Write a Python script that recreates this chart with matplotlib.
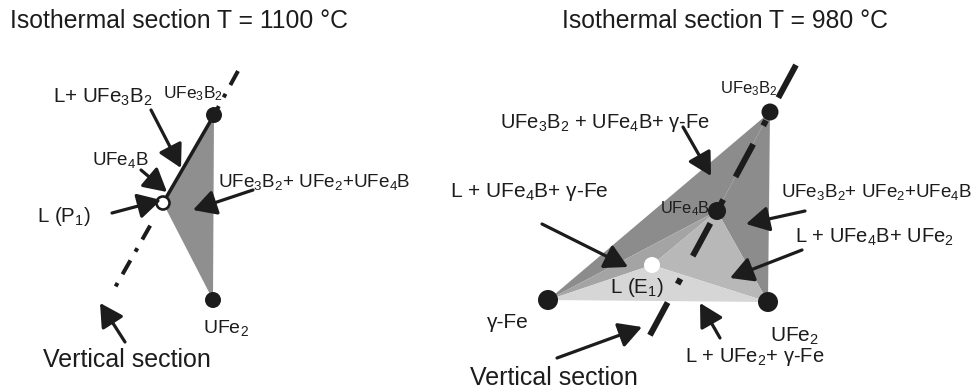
import matplotlib
matplotlib.use("Agg")
import matplotlib.pyplot as plt
from matplotlib.patches import Polygon, Circle

plt.rcParams["font.family"] = ["Liberation Sans", "DejaVu Sans"]
plt.rcParams["mathtext.fontset"] = "custom"
plt.rcParams["mathtext.rm"] = "Liberation Sans"
plt.rcParams["mathtext.it"] = "Liberation Sans:italic"
plt.rcParams["mathtext.bf"] = "Liberation Sans:bold"

# ---- phase points on the drawing plane (x, y), y grows downward ----
left_nodes = {"UFe3B2": (214, 115), "UFe2": (213, 300), "P1": (163, 203)}
right_nodes = {"UFe3B2": (770, 112), "UFe4B": (717, 211), "gFe": (548, 300),
               "UFe2": (768, 302), "E1": (652, 265)}

# phase-field triangles and their grey shade
left_fields = [(("UFe3B2", "P1", "UFe2"), "#8f8f8f")]
right_fields = [
    (("UFe3B2", "gFe", "UFe4B"), "#8c8c8c"),
    (("UFe3B2", "UFe4B", "UFe2"), "#8c8c8c"),
    (("gFe", "UFe4B", "E1"), "#a4a4a4"),
    (("UFe4B", "UFe2", "E1"), "#b8b8b8"),
    (("gFe", "E1", "UFe2"), "#d6d6d6"),
]

# vertical-section traces
left_section_top = [(238, 71), (214, 115)]
left_section_low = [(150.2, 225.6), (112.6, 291.7)]
right_section = [(796, 65), (649, 337)]

titles = [("Isothermal section T = 1100 °C", 10, 28),
          ("Isothermal section T = 980 °C", 562, 28)]

# labels: text, x, baseline y, size
labels = [
    ("L+ UFe$_3$B$_2$", 53, 103, 14.8),
    ("UFe$_3$B$_2$", 163, 98, 12.5),
    ("UFe$_4$B", 92, 165, 13.5),
    ("L (P$_1$)", 37, 222, 14.8),
    ("UFe$_3$B$_2$+ UFe$_2$+UFe$_4$B", 218, 187, 13.6),
    ("UFe$_2$", 203, 333, 14),
    ("Vertical section", 43, 367, 18),
    ("UFe$_3$B$_2$", 720, 93, 12),
    ("UFe$_3$B$_2$ + UFe$_4$B+ γ-Fe", 500, 128, 14.5),
    ("L + UFe$_4$B+ γ-Fe", 450, 197, 15),
    ("UFe$_3$B$_2$+ UFe$_2$+UFe$_4$B", 781, 197, 13.5),
    ("UFe$_4$B", 660, 213, 11.8),
    ("L + UFe$_4$B+ UFe$_2$", 795, 243, 14.5),
    ("L (E$_1$)", 610, 293, 14.8),
    ("γ-Fe", 487, 328, 15),
    ("UFe$_2$", 770, 342, 15),
    ("L + UFe$_2$+ γ-Fe", 685, 362, 14.5),
    ("Vertical section", 470, 385, 18),
]

# pointer arrows: tail -> tip
arrows = [
    ((151, 110), (181, 168)),
    ((141, 170), (167, 192)),
    ((112, 213), (161, 200)),
    ((253, 190), (193, 210)),
    ((125, 342), (100, 303)),
    ((683, 127), (711, 176)),
    ((542, 224), (628, 267)),
    ((805, 211), (746, 224)),
    ((802, 250), (730, 278)),
    ((720, 338), (700, 303)),
    ((557, 358), (642, 327)),
]

INK = "#1c1c1c"
PX = 72 / 100  # points per pixel

fig = plt.figure(figsize=(9.74, 3.89), dpi=100)
ax = fig.add_axes([0, 0, 1, 1])
ax.set_xlim(0, 974)
ax.set_ylim(389, 0)
ax.axis("off")

for nodes, fields in ((left_nodes, left_fields), (right_nodes, right_fields)):
    for keys, shade in fields:
        ax.add_patch(Polygon([nodes[k] for k in keys], closed=True,
                             facecolor=shade, edgecolor="none", zorder=1))

# left: tie line and dash-dot section
ax.plot(*zip(left_nodes["UFe3B2"], left_nodes["P1"]), color=INK,
        lw=3.5 * PX, solid_capstyle="butt", zorder=3)
lw_l = 4 * PX
for seg in (left_section_top, left_section_low):
    ax.plot(*zip(*seg), color=INK, lw=lw_l, dash_capstyle="butt",
            linestyle=(0, (4.0, 2.5, 1.0, 2.5)), zorder=3)

# right: dashed section
ax.plot(*zip(*right_section), color=INK, lw=6 * PX, dash_capstyle="butt",
        linestyle=(0, (6.2, 4.3, 1.0, 3.5)), zorder=3)

# phase points
for k in ("UFe3B2", "UFe2"):
    ax.add_patch(Circle(left_nodes[k], 8, facecolor=INK, edgecolor="none", zorder=4))
ax.add_patch(Circle(left_nodes["P1"], 6.5, facecolor="white", edgecolor=INK,
                    lw=2.6 * PX, zorder=5))
for k, r in (("UFe3B2", 8.5), ("UFe4B", 9), ("gFe", 10), ("UFe2", 10)):
    ax.add_patch(Circle(right_nodes[k], r, facecolor=INK, edgecolor="none", zorder=4))
ax.add_patch(Circle(right_nodes["E1"], 8, facecolor="white", edgecolor="none", zorder=5))

for text, x, y in titles:
    ax.text(x, y, text, fontsize=17.8, color=INK, ha="left", va="baseline", zorder=6)
for text, x, y, size in labels:
    ax.text(x, y, text, fontsize=size, color=INK, ha="left", va="baseline", zorder=6)

for tail, tip in arrows:
    ax.annotate("", xy=tip, xytext=tail,
                arrowprops=dict(arrowstyle="-|>,head_length=1.0,head_width=0.55",
                                mutation_scale=14, lw=3.2 * PX, color=INK,
                                shrinkA=0, shrinkB=0),
                zorder=7)

fig.savefig("out.png", dpi=100)
